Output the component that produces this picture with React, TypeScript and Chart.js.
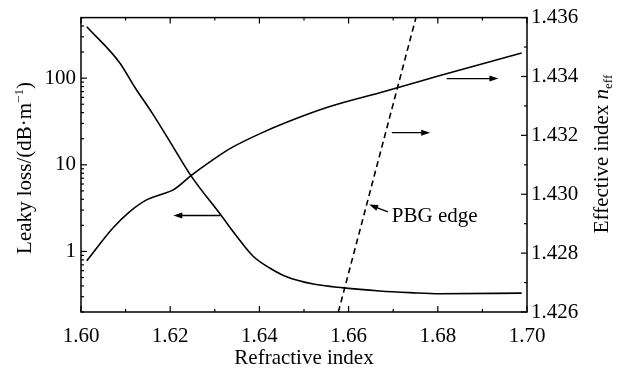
import React, { useEffect, useRef } from 'react';
import { Chart, registerables } from 'chart.js';

Chart.register(...registerables);

// ---- data ----
const lossRefIndex = [1.6013, 1.6087, 1.6121, 1.6159, 1.62, 1.6248, 1.6312, 1.6349, 1.6386, 1.6424, 1.6461, 1.6521, 1.6588, 1.667, 1.6738, 1.6805, 1.6988];
const leakyLoss = [392, 150, 78, 40, 18.3, 7.3, 2.7, 1.5, 0.88, 0.64, 0.51, 0.42, 0.38, 0.35, 0.335, 0.325, 0.33];

const neffRefIndex = [1.6013, 1.6072, 1.611, 1.6147, 1.6181, 1.6207, 1.6248, 1.6289, 1.6334, 1.6409, 1.6484, 1.6558, 1.667, 1.6805, 1.6988];
const effectiveIndex = [1.42774, 1.42886, 1.42942, 1.42981, 1.43, 1.43015, 1.43065, 1.4311, 1.43155, 1.43211, 1.43258, 1.43298, 1.43345, 1.43403, 1.4348];

const pbgRefIndex = [1.6577, 1.6751];
const pbgNeff = [1.426, 1.436];

const xTickValues = [1.6, 1.62, 1.64, 1.66, 1.68, 1.7];
const lossTickValues = [1, 10, 100];
const neffTickValues = [1.426, 1.428, 1.43, 1.432, 1.434, 1.436];

const FONT = '"Liberation Serif", "Times New Roman", serif';
const FS = 21;

function drawArrow(ctx: CanvasRenderingContext2D, x1: number, y1: number, x2: number, y2: number) {
  const ang = Math.atan2(y2 - y1, x2 - x1);
  const hl = 9, hw = 3;
  ctx.beginPath();
  ctx.moveTo(x1, y1);
  ctx.lineTo(x2 - Math.cos(ang) * hl * 0.7, y2 - Math.sin(ang) * hl * 0.7);
  ctx.stroke();
  ctx.beginPath();
  ctx.moveTo(x2, y2);
  ctx.lineTo(x2 - hl * Math.cos(ang) + hw * Math.sin(ang), y2 - hl * Math.sin(ang) - hw * Math.cos(ang));
  ctx.lineTo(x2 - hl * Math.cos(ang) - hw * Math.sin(ang), y2 - hl * Math.sin(ang) + hw * Math.cos(ang));
  ctx.closePath();
  ctx.fill();
}

const decorPlugin = {
  id: 'decor',
  afterDraw(chart: any) {
    const { ctx, chartArea: a, scales } = chart;
    const sx = scales.x, sl = scales.yL, sr = scales.yR;
    ctx.save();
    ctx.strokeStyle = '#000';
    ctx.fillStyle = '#000';
    ctx.lineWidth = 1.5;
    ctx.strokeRect(a.left, a.top, a.right - a.left, a.bottom - a.top);

    ctx.lineWidth = 1.2;
    for (let i = 0; i < xTickValues.length; i++) {
      const v = xTickValues[i];
      const p = sx.getPixelForValue(v);
      ctx.beginPath();
      ctx.moveTo(p, a.bottom); ctx.lineTo(p, a.bottom - 6);
      ctx.moveTo(p, a.top); ctx.lineTo(p, a.top + 6);
      ctx.stroke();
      if (i < xTickValues.length - 1) {
        const m = sx.getPixelForValue((v + xTickValues[i + 1]) / 2);
        ctx.beginPath();
        ctx.moveTo(m, a.bottom); ctx.lineTo(m, a.bottom - 3);
        ctx.moveTo(m, a.top); ctx.lineTo(m, a.top + 3);
        ctx.stroke();
      }
    }
    for (let d = 0.1; d <= 100.5; d *= 10) {
      for (let k = 1; k <= 9; k++) {
        const v = d * k;
        if (v < sl.min * 0.999 || v > sl.max * 1.001) continue;
        const p = sl.getPixelForValue(v);
        const len = k === 1 ? 6 : 3;
        ctx.beginPath();
        ctx.moveTo(a.left, p); ctx.lineTo(a.left + len, p);
        ctx.stroke();
      }
    }
    for (let i = 0; i < neffTickValues.length; i++) {
      const v = neffTickValues[i];
      const p = sr.getPixelForValue(v);
      ctx.beginPath();
      ctx.moveTo(a.right, p); ctx.lineTo(a.right - 6, p);
      ctx.stroke();
      if (i < neffTickValues.length - 1) {
        const m = sr.getPixelForValue((v + neffTickValues[i + 1]) / 2);
        ctx.beginPath();
        ctx.moveTo(a.right, m); ctx.lineTo(a.right - 3, m);
        ctx.stroke();
      }
    }

    ctx.lineWidth = 1.3;
    const yl = 2.6;
    drawArrow(ctx, sx.getPixelForValue(1.6312), sl.getPixelForValue(yl), sx.getPixelForValue(1.6207), sl.getPixelForValue(yl));
    drawArrow(ctx, sx.getPixelForValue(1.682), sr.getPixelForValue(1.43393), sx.getPixelForValue(1.6936), sr.getPixelForValue(1.43393));
    drawArrow(ctx, sx.getPixelForValue(1.6697), sr.getPixelForValue(1.43209), sx.getPixelForValue(1.6783), sr.getPixelForValue(1.43209));
    drawArrow(ctx, sx.getPixelForValue(1.6688), sr.getPixelForValue(1.4294), sx.getPixelForValue(1.6646), sr.getPixelForValue(1.42965));

    ctx.font = `${FS}px ${FONT}`;
    ctx.textAlign = 'left';
    ctx.textBaseline = 'middle';
    ctx.fillText('PBG edge', sx.getPixelForValue(1.6697), sr.getPixelForValue(1.42925));

    ctx.textAlign = 'center';
    ctx.textBaseline = 'alphabetic';
    ctx.fillText('Refractive index', (a.left + a.right) / 2, 364);

    {
      const base = `Leaky loss/(dB\u00B7m`;
      const sup = '\u22121';
      const tail = ')';
      ctx.font = `${FS}px ${FONT}`;
      const w1 = ctx.measureText(base).width;
      ctx.font = `13px ${FONT}`;
      const w2 = ctx.measureText(sup).width;
      ctx.font = `${FS}px ${FONT}`;
      const w3 = ctx.measureText(tail).width;
      const tw = w1 + w2 + w3;
      ctx.save();
      ctx.translate(31, 168);
      ctx.rotate(-Math.PI / 2);
      ctx.textAlign = 'left';
      ctx.textBaseline = 'alphabetic';
      let x = -tw / 2;
      ctx.font = `${FS}px ${FONT}`;
      ctx.fillText(base, x, 0); x += w1;
      ctx.font = `13px ${FONT}`;
      ctx.fillText(sup, x, -8); x += w2;
      ctx.font = `${FS}px ${FONT}`;
      ctx.fillText(tail, x, 0);
      ctx.restore();
    }
    {
      const base = 'Effective index ';
      ctx.font = `${FS}px ${FONT}`;
      const w1 = ctx.measureText(base).width;
      ctx.font = `italic ${FS}px ${FONT}`;
      const w2 = ctx.measureText('n').width;
      ctx.font = `13px ${FONT}`;
      const w3 = ctx.measureText('eff').width;
      const tw = w1 + w2 + w3;
      ctx.save();
      ctx.translate(608, 154);
      ctx.rotate(-Math.PI / 2);
      ctx.textAlign = 'left';
      ctx.textBaseline = 'alphabetic';
      let x = -tw / 2;
      ctx.font = `${FS}px ${FONT}`;
      ctx.fillText(base, x, 0); x += w1;
      ctx.font = `italic ${FS}px ${FONT}`;
      ctx.fillText('n', x, 0); x += w2;
      ctx.font = `13px ${FONT}`;
      ctx.fillText('eff', x, 4);
      ctx.restore();
    }
    ctx.restore();
  },
};

export default function App() {
  const ref = useRef<HTMLCanvasElement | null>(null);
  useEffect(() => {
    document.body.style.margin = '0';
    document.body.style.overflow = 'hidden';
    const canvas = ref.current!;
    const tickFont = { family: FONT, size: FS };
    const chart = new Chart(canvas, {
      type: 'line',
      data: {
        datasets: [
          {
            label: 'Leaky loss',
            data: lossRefIndex.map((x, i) => ({ x, y: leakyLoss[i] })),
            yAxisID: 'yL',
            borderColor: '#000',
            borderWidth: 1.6,
            pointRadius: 0,
            cubicInterpolationMode: 'monotone',
          },
          {
            label: 'Effective index',
            data: neffRefIndex.map((x, i) => ({ x, y: effectiveIndex[i] })),
            yAxisID: 'yR',
            borderColor: '#000',
            borderWidth: 1.6,
            pointRadius: 0,
            cubicInterpolationMode: 'monotone',
          },
          {
            label: 'PBG edge',
            data: pbgRefIndex.map((x, i) => ({ x, y: pbgNeff[i] })),
            yAxisID: 'yR',
            borderColor: '#000',
            borderWidth: 1.6,
            borderDash: [6, 4],
            pointRadius: 0,
            tension: 0,
          },
        ],
      },
      options: {
        animation: false,
        responsive: false,
        devicePixelRatio: 1,
        layout: { padding: { top: 14, left: 0, right: 0, bottom: 0 } },
        plugins: { legend: { display: false }, tooltip: { enabled: false } },
        scales: {
          x: {
            type: 'linear',
            position: 'bottom',
            min: 1.6,
            max: 1.7,
            grid: { display: false, drawTicks: false },
            border: { display: false },
            afterBuildTicks: (s: any) => { s.ticks = xTickValues.map((v) => ({ value: v })); },
            afterFit: (s: any) => { s.height = 58; },
            ticks: {
              font: tickFont,
              color: '#000',
              padding: 12,
              maxRotation: 0,
              autoSkip: false,
              callback: (v: any) => Number(v).toFixed(2),
            },
          },
          yL: {
            type: 'logarithmic',
            position: 'left',
            min: 0.2,
            max: 500,
            grid: { display: false, drawTicks: false },
            border: { display: false },
            afterBuildTicks: (s: any) => { s.ticks = lossTickValues.map((v) => ({ value: v })); },
            afterFit: (s: any) => { s.width = 81; },
            ticks: {
              font: tickFont,
              color: '#000',
              padding: 5,
              autoSkip: false,
              callback: (v: any) => String(v),
            },
          },
          yR: {
            type: 'linear',
            position: 'right',
            min: 1.426,
            max: 1.436,
            grid: { display: false, drawTicks: false },
            border: { display: false },
            afterBuildTicks: (s: any) => { s.ticks = neffTickValues.map((v) => ({ value: v })); },
            afterFit: (s: any) => { s.width = 92; },
            ticks: {
              font: tickFont,
              color: '#000',
              padding: 4,
              autoSkip: false,
              callback: (v: any) => Number(v).toFixed(3),
            },
          },
        },
      },
      plugins: [decorPlugin],
    } as any);
    return () => chart.destroy();
  }, []);
  return (
    <div style={{ width: 619, height: 370, background: '#fff' }}>
      <canvas ref={ref} width={619} height={370} style={{ display: 'block' }} />
    </div>
  );
}
